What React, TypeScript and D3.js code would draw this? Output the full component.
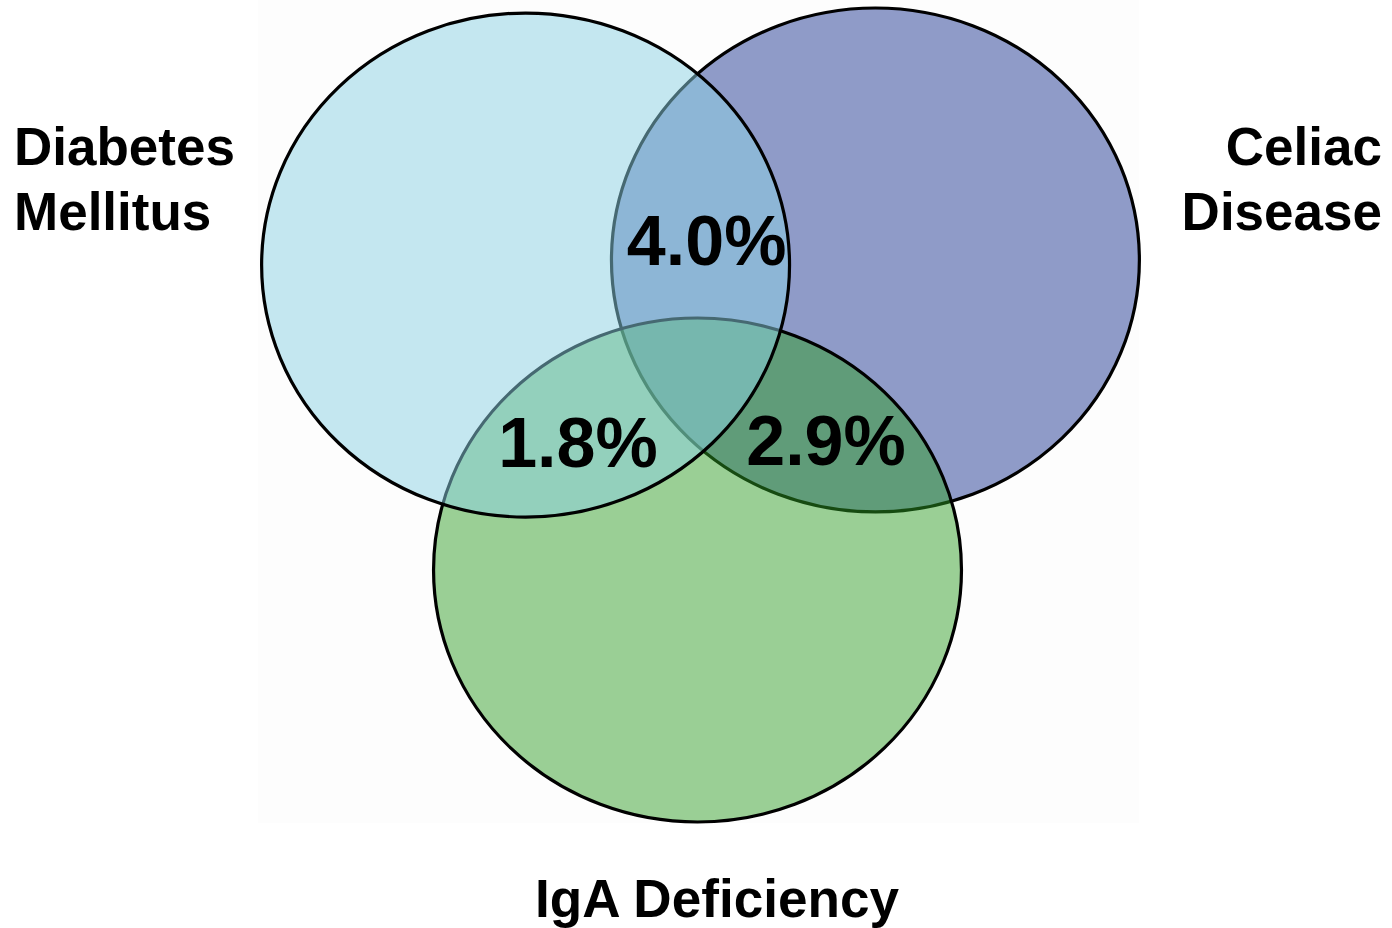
import React from 'react';
import * as d3 from 'd3';

// set names, drawing order is bottom -> top
const setNames = ['Celiac Disease', 'IgA Deficiency', 'Diabetes Mellitus'];
// centres and radii in layout units (0..1 across the plot frame)
const setCx = [0.699, 0.4966, 0.301];
const setCy = [0.3104, 0.6908, 0.3166];
const radiusX = 0.3003;
const radiusY = 0.3092;
const setColors = ['#8f9bc8', 'rgb(45,157,36)', 'rgb(139,209,227)'];
const setOpacity = [1, 0.48, 0.5];

// pairwise overlaps
const overlapLabels = ['4.0%', '1.8%', '2.9%'];
const overlapX = [0.507, 0.3606, 0.6428];
const overlapY = [0.3166, 0.5644, 0.562];

const W = 1392;
const H = 928;
const font = '"Liberation Sans", Arial, Helvetica, sans-serif';

const App: React.FC = () => {
  const frame = { left: 261, right: 1140, top: 7, bottom: 822 };
  const x = d3.scaleLinear().domain([0, 1]).range([frame.left, frame.right]);
  const y = d3.scaleLinear().domain([0, 1]).range([frame.top, frame.bottom]);
  const rx = x(radiusX) - x(0);
  const ry = y(radiusY) - y(0);

  return (
    <div style={{ position: 'absolute', left: 0, top: 0 }}>
      <svg width={W} height={H} style={{ display: 'block', background: '#fff' }}>
        <rect x={258} y={0} width={881} height={823} fill="#fdfdfd" />
        {setNames.map((name, i) => (
          <g key={name}>
            <ellipse
              cx={x(setCx[i])}
              cy={y(setCy[i])}
              rx={rx}
              ry={ry}
              fill={setColors[i]}
              fillOpacity={setOpacity[i]}
              stroke="none"
            />
            <ellipse
              cx={x(setCx[i])}
              cy={y(setCy[i])}
              rx={rx}
              ry={ry}
              fill="none"
              stroke="#000"
              strokeWidth={3.2}
            />
          </g>
        ))}

        {overlapLabels.map((lab, i) => (
          <text
            key={lab}
            x={x(overlapX[i])}
            y={y(overlapY[i])}
            textAnchor="middle"
            fontFamily={font}
            fontWeight="bold"
            fontSize={70}
            fill="#000"
          >
            {lab}
          </text>
        ))}

        <g fontFamily={font} fontWeight="bold" fontSize={53} fill="#000">
          <text x={14} y={165} textAnchor="start">Diabetes</text>
          <text x={14} y={230} textAnchor="start">Mellitus</text>
          <text x={1382} y={165} textAnchor="end">Celiac</text>
          <text x={1382} y={230} textAnchor="end">Disease</text>
          <text x={717} y={917} textAnchor="middle" textLength={364} lengthAdjust="spacingAndGlyphs">
            IgA Deficiency
          </text>
        </g>
      </svg>
    </div>
  );
};

export default App;
